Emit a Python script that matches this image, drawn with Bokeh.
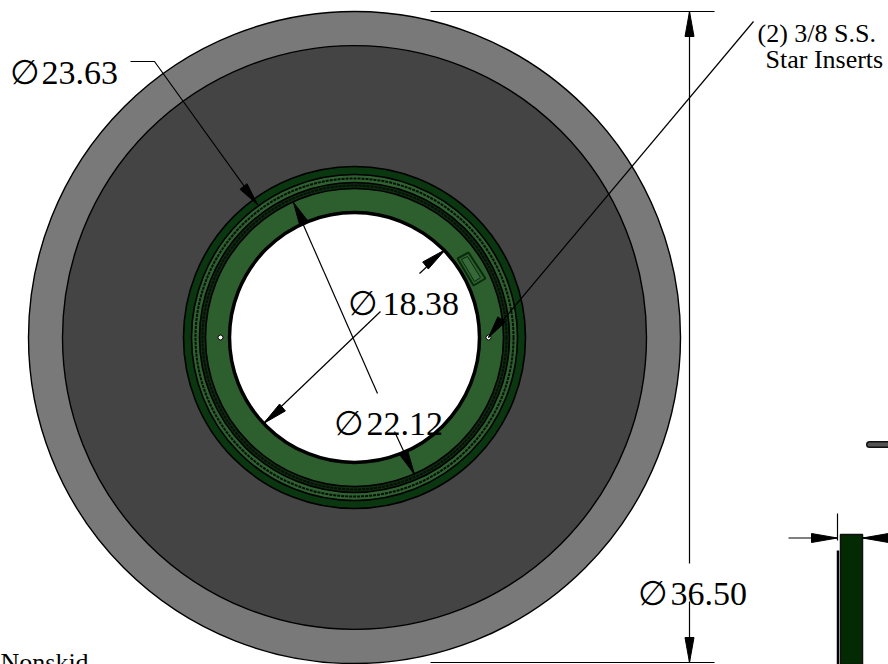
from bokeh.plotting import figure
from bokeh.embed import file_html
from bokeh.resources import INLINE
from bokeh.core.properties import value

center = (354, 337)
disc_radii = [326, 292]
disc_colors = ["#797979", "#444444"]
ring_radii = [171, 163, 155, 149, 125]
ring_colors = ["#0a3610", "#2f6030", "#0e2c10", "#2d5e2e", "#ffffff"]
ring_lines = [159, 152]
holes_x = [220, 488]

labels = ["23.63", "18.38", "22.12", "36.50"]
label_x = [41, 382, 366, 670]
label_y = [72, 303, 423, 593]
phi_x = [9, 347, 333, 637]

note_text = ["(2) 3/8 S.S.", "Star Inserts", "Nonskid"]
note_x = [757, 765, 0]
note_y = [33, 59, 662]

leaders = [
    ([130, 154, 257], [61, 61, 204]),
    ([293, 377], [202, 393]),
    ([394, 414], [431, 474]),
    ([380, 263], [311, 423]),
    ([419, 445], [273, 249]),
    ([753, 488], [21, 337]),
    ([689, 689], [11, 563]),
    ([689, 689], [601, 662]),
    ([430, 714], [11, 11]),
    ([430, 714], [662, 662]),
    ([837, 837], [513, 540]),
    ([788, 837], [537.5, 537.5]),
    ([862, 887], [537.5, 537.5]),
]
arrow_tip_x = [257, 293, 414, 263, 445, 488, 689, 689, 837, 862]
arrow_tip_y = [204, 202, 474, 423, 249, 337, 11, 662, 537.5, 537.5]
arrow_base_x = [243, 303, 403, 282, 425, 501, 689, 689, 811, 888]
arrow_base_y = [186, 222, 452, 407, 265, 319, 36, 637, 537.5, 537.5]

bar_x = [840, 862]
bar_y = [534, 664]
bar_edge_x = [837.5]
pill_x = [869, 888]
pill_y = [444, 444]
insert_x = [457, 468, 485, 473]
insert_y = [258, 252, 278, 285]
insert_inner_x = [461, 467, 480, 474]
insert_inner_y = [259, 256, 277, 281]

W, H = 888, 664
p = figure(width=W, height=H, x_range=(0, W), y_range=(H, 0),
           output_backend="svg", toolbar_location=None,
           min_border=0, outline_line_color=None, margin=(0, 0, 0, 0))
p.xaxis.visible = False
p.yaxis.visible = False
p.grid.visible = False
p.background_fill_color = "white"
p.border_fill_color = "white"

cx, cy = center
p.circle([cx] * 2, [cy] * 2, radius=disc_radii, fill_color=disc_colors,
         line_color="black", line_width=1.4)
p.circle([cx] * 5, [cy] * 5, radius=ring_radii, fill_color=ring_colors,
         line_color="black", line_width=1.6)
p.circle([cx] * 2, [cy] * 2, radius=ring_lines, fill_color=None,
         line_color="#061006", line_width=2, line_dash="3 1")
p.circle([cx], [cy], radius=[ring_radii[-1]], fill_color=None,
         line_color="black", line_width=3.5)
p.circle(holes_x, [cy, cy], radius=2.5, fill_color="white", line_color="black", line_width=1)
p.patch(insert_x, insert_y, fill_color="#2d5e2e", line_color="#0a2a0c", line_width=2)
p.patch(insert_inner_x, insert_inner_y, fill_color="#37683a", line_color="#0a2a0c", line_width=1)

p.quad(left=bar_x[0], right=bar_x[1], top=bar_y[0], bottom=bar_y[1],
       fill_color="#042a04", line_color="#111111", line_width=1.5)
p.segment(bar_edge_x, [550], bar_edge_x, [664], line_color="black", line_width=2.5)
p.line(pill_x, pill_y, line_color="#111111", line_width=7, line_cap="round")
p.line(pill_x, pill_y, line_color="#555555", line_width=4, line_cap="round")

for xs, ys in leaders:
    p.line(xs, ys, line_color="black", line_width=1.2)

half = 4.5
for tx, ty, bx, by in zip(arrow_tip_x, arrow_tip_y, arrow_base_x, arrow_base_y):
    dx, dy = bx - tx, by - ty
    n = (dx * dx + dy * dy) ** 0.5
    ox, oy = -dy / n * half, dx / n * half
    p.patch([tx, bx + ox, bx - ox], [ty, by + oy, by - oy], fill_color="black", line_color="black")

serif = value("Liberation Serif")
p.text(label_x, label_y, text=labels, text_font=serif, text_font_size="34px",
       text_color="black", text_align="left", text_baseline="alphabetic")
p.text(phi_x, label_y, text=["∅"] * 4, text_font=serif, text_font_size="34px",
       text_color="black", text_align="left", text_baseline="alphabetic")
p.text(note_x, note_y, text=note_text, text_font=serif, text_font_size="26px",
       text_color="black", text_align="left", text_baseline="alphabetic")

open("out.html", "w").write(file_html(p, INLINE))
